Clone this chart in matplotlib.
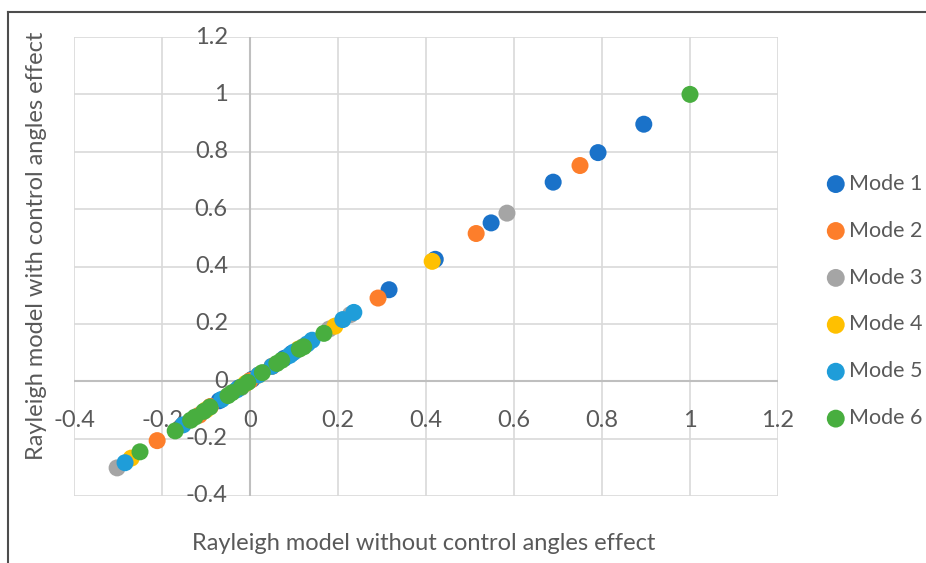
import matplotlib.pyplot as plt
from matplotlib.lines import Line2D

plt.rcParams['font.family'] = ['Lato', 'DejaVu Sans']

modes = ['Mode 1', 'Mode 2', 'Mode 3', 'Mode 4', 'Mode 5', 'Mode 6']
colors = ['#1a72c9', '#fd7e2b', '#a5a5a5', '#ffc000', '#1f9dd9', '#48ae3f']

mode1_x = [0.895, 0.791, 0.689, 0.548, 0.421, 0.316, 0.095, 0.078, 0.005, -0.025, -0.07]
mode1_y = [0.896, 0.797, 0.694, 0.552, 0.425, 0.319, 0.097, 0.080, 0.007, -0.023, -0.068]
mode2_x = [0.750, 0.514, 0.291, -0.211, -0.115, -0.090, 0.000, 0.050]
mode2_y = [0.752, 0.515, 0.290, -0.207, -0.118, -0.088, 0.002, 0.052]
mode3_x = [0.584, -0.302, 0.228, 0.180, 0.120, -0.020]
mode3_y = [0.586, -0.302, 0.232, 0.182, 0.120, -0.022]
mode4_x = [0.414, 0.193, -0.270, -0.100, 0.020, -0.010, 0.110]
mode4_y = [0.418, 0.192, -0.268, -0.100, 0.022, -0.008, 0.112]
mode5_x = [0.236, 0.211, 0.141, 0.100, 0.090, 0.050, 0.020, -0.064, -0.152, -0.284, 0.130, -0.030]
mode5_y = [0.240, 0.215, 0.143, 0.102, 0.090, 0.052, 0.022, -0.063, -0.152, -0.284, 0.130, -0.030]
mode6_x = [1.000, 0.168, 0.122, 0.112, 0.072, 0.061, 0.028, -0.005, -0.020, -0.041, -0.050,
           -0.091, -0.105, -0.125, -0.135, -0.170, -0.250]
mode6_y = [1.000, 0.167, 0.120, 0.112, 0.073, 0.062, 0.030, -0.004, -0.020, -0.040, -0.050,
           -0.090, -0.105, -0.125, -0.136, -0.173, -0.246]

xs = [mode1_x, mode2_x, mode3_x, mode4_x, mode5_x, mode6_x]
ys = [mode1_y, mode2_y, mode3_y, mode4_y, mode5_y, mode6_y]

ticks = [-0.4, -0.2, 0, 0.2, 0.4, 0.6, 0.8, 1, 1.2]
txt = '#595959'
fs = 17

fig = plt.figure(figsize=(9.26, 5.63), dpi=100)
ax = fig.add_axes([74 / 926, 1 - 496 / 563, 704 / 926, 459 / 563])
ax.set_xlim(-0.4, 1.2)
ax.set_ylim(-0.4, 1.2)
for s in ax.spines.values():
    s.set_visible(False)
ax.set_xticks(ticks)
ax.set_yticks(ticks)
ax.tick_params(length=0, labelbottom=False, labelleft=False)
ax.grid(True, color='#d9d9d9', lw=1.2)
ax.set_axisbelow(True)
ax.axhline(0, color='#bfbfbf', lw=1.5, zorder=1)
ax.axvline(0, color='#bfbfbf', lw=1.5, zorder=1)

for t in ticks:
    lab = '%g' % t
    ax.annotate(lab, (0, t), xytext=(-16, 0), textcoords='offset points',
                ha='right', va='center', fontsize=fs, color=txt)
    ax.annotate(lab, (t, 0), xytext=(0, -28), textcoords='offset points',
                ha='center', va='center', fontsize=fs, color=txt)

for name, c, x, y in zip(modes, colors, xs, ys):
    ax.scatter(x, y, s=150, color=c, edgecolors='none', label=name, zorder=3)

fig.legend(loc='center left', bbox_to_anchor=(825 / 926, 1 - 301 / 563), frameon=False,
           fontsize=15.5, labelcolor=txt, handlelength=1.0, handletextpad=0.1,
           labelspacing=1.25, borderpad=0, borderaxespad=0, markerscale=1.05)

fig.text(424 / 926, 1 - 543 / 563, 'Rayleigh model without control angles effect',
         ha='center', va='center', fontsize=fs, color=txt)
fig.text(37 / 926, 1 - 246 / 563, 'Rayleigh model with control angles effect',
         ha='center', va='center', rotation=90, fontsize=fs, color=txt)

fig.add_artist(Line2D([8 / 926, 1], [1 - 12 / 563, 1 - 12 / 563], transform=fig.transFigure,
                      color='#4d4d4d', lw=1.5))
fig.add_artist(Line2D([8 / 926, 8 / 926], [0, 1 - 12 / 563], transform=fig.transFigure,
                      color='#4d4d4d', lw=1.5))

fig.savefig('out.png', dpi=100)
